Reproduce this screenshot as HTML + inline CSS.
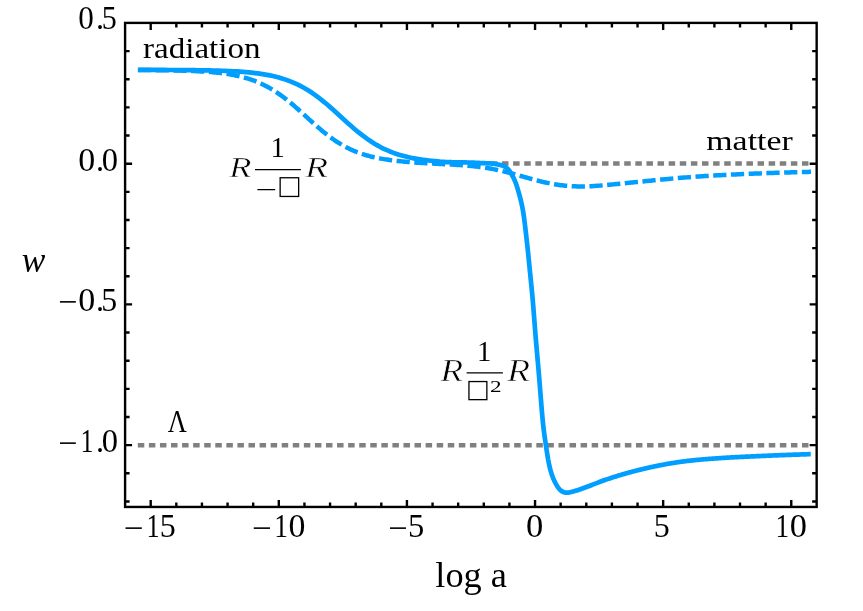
<!DOCTYPE html>
<html><head><meta charset="utf-8"><title>w vs log a</title>
<style>html,body{margin:0;padding:0;background:#fff;}body{width:863px;height:611px;overflow:hidden;font-family:"Liberation Serif",serif;}svg{display:block;will-change:transform}</style>
</head><body>
<svg width="863" height="611" viewBox="0 0 863 611">
<path d="M490.9,163.4 H810.5" stroke="#808080" stroke-width="4.5" stroke-dasharray="6.5 4.61" fill="none"/>
<path d="M137.8,445.20 H810.5" stroke="#808080" stroke-width="4.5" stroke-dasharray="6.5 4.57" fill="none"/>
<path d="M137.90,70.01 L139.40,70.01 L140.90,70.02 L142.40,70.03 L143.90,70.04 L145.40,70.05 L146.89,70.06 L148.39,70.07 L149.89,70.08 L151.39,70.10 L152.89,70.11 L154.39,70.12 L155.89,70.14 L157.39,70.16 L158.89,70.17 L160.39,70.19 L161.89,70.21 L163.38,70.23 L164.88,70.25 L166.38,70.27 L167.88,70.30 L169.38,70.32 L170.88,70.35 L172.38,70.38 L173.88,70.41 L175.38,70.44 L176.88,70.47 L178.38,70.51 L179.88,70.55 L181.37,70.59 L182.87,70.63 L184.37,70.67 L185.87,70.72 L187.37,70.77 L188.87,70.83 L190.37,70.88 L191.87,70.94 L193.37,71.01 L194.87,71.07 L196.37,71.14 L197.86,71.22 L199.36,71.30 L200.86,71.38 L202.36,71.47 L203.86,71.57 L205.36,71.67 L206.86,71.77 L208.36,71.89 L209.86,72.00 L211.36,72.13 L212.86,72.26 L214.35,72.40 L215.85,72.55 L217.35,72.71 L218.85,72.87 L220.35,73.04 L221.85,73.23 L223.35,73.42 L224.85,73.63 L226.35,73.85 L227.85,74.07 L229.35,74.31 L230.84,74.57 L232.34,74.84 L233.84,75.12 L235.34,75.42 L236.84,75.73 L238.34,76.06 L239.84,76.41 L241.34,76.77 L242.84,77.15 L244.34,77.56 L245.84,77.98 L247.33,78.42 L248.83,78.89 L250.33,79.38 L251.83,79.89 L253.33,80.42 L254.83,80.98 L256.33,81.57 L257.83,82.18 L259.33,82.82 L260.83,83.49 L262.33,84.18 L263.83,84.91 L265.32,85.66 L266.82,86.44 L268.32,87.26 L269.82,88.10 L271.32,88.98 L272.82,89.88 L274.32,90.82 L275.82,91.78 L277.32,92.78 L278.82,93.81 L280.32,94.87 L281.81,95.95 L283.31,97.07 L284.81,98.21 L286.31,99.38 L287.81,100.57 L289.31,101.79 L290.81,103.03 L292.31,104.30 L293.81,105.58 L295.31,106.88 L296.81,108.20 L298.30,109.53 L299.80,110.87 L301.30,112.22 L302.80,113.58 L304.30,114.95 L305.80,116.32 L307.30,117.68 L308.80,119.05 L310.30,120.41 L311.80,121.77 L313.30,123.12 L314.79,124.45 L316.29,125.78 L317.79,127.09 L319.29,128.38 L320.79,129.65 L322.29,130.90 L323.79,132.13 L325.29,133.34 L326.79,134.52 L328.29,135.68 L329.79,136.80 L331.29,137.90 L332.78,138.97 L334.28,140.02 L335.78,141.03 L337.28,142.01 L338.78,142.96 L340.28,143.88 L341.78,144.77 L343.28,145.63 L344.78,146.45 L346.28,147.25 L347.78,148.02 L349.27,148.75 L350.77,149.46 L352.27,150.14 L353.77,150.80 L355.27,151.42 L356.77,152.02 L358.27,152.59 L359.77,153.14 L361.27,153.66 L362.77,154.16 L364.27,154.64 L365.76,155.09 L367.26,155.52 L368.76,155.93 L370.26,156.33 L371.76,156.70 L373.26,157.06 L374.76,157.39 L376.26,157.71 L377.76,158.02 L379.26,158.31 L380.76,158.59 L382.25,158.86 L383.75,159.12 L385.25,159.36 L386.75,159.59 L388.25,159.82 L389.75,160.03 L391.25,160.22 L392.75,160.41 L394.25,160.59 L395.75,160.77 L397.25,160.93 L398.74,161.08 L400.24,161.23 L401.74,161.38 L403.24,161.53 L404.74,161.68 L406.24,161.82 L407.74,161.96 L409.24,162.09 L410.74,162.22 L412.24,162.33 L413.74,162.44 L415.24,162.55 L416.73,162.65 L418.23,162.75 L419.73,162.85 L421.23,162.94 L422.73,163.03 L424.23,163.12 L425.73,163.20 L427.23,163.28 L428.73,163.37 L430.23,163.45 L431.73,163.52 L433.22,163.60 L434.72,163.68 L436.22,163.75 L437.72,163.83 L439.22,163.91 L440.72,163.98 L442.22,164.06 L443.72,164.13 L445.22,164.21 L446.72,164.29 L448.22,164.37 L449.71,164.45 L451.21,164.53 L452.71,164.62 L454.21,164.71 L455.71,164.80 L457.21,164.89 L458.71,164.99 L460.21,165.09 L461.71,165.20 L463.21,165.31 L464.71,165.43 L466.20,165.55 L467.70,165.67 L469.20,165.81 L470.70,165.95 L472.20,166.09 L473.70,166.25 L475.20,166.41 L476.70,166.58 L478.20,166.76 L479.70,166.95 L481.20,167.14 L482.70,167.35 L484.19,167.57 L485.69,167.80 L487.19,168.04 L488.69,168.29 L490.19,168.55 L491.69,168.82 L493.19,169.10 L494.69,169.40 L496.19,169.71 L497.69,170.02 L499.19,170.35 L500.68,170.69 L502.18,171.04 L503.68,171.39 L505.18,171.76 L506.68,172.14 L508.18,172.52 L509.68,172.92 L511.18,173.32 L512.68,173.72 L514.18,174.14 L515.68,174.55 L517.17,174.97 L518.67,175.40 L520.17,175.82 L521.67,176.25 L523.17,176.68 L524.67,177.11 L526.17,177.53 L527.67,177.95 L529.17,178.37 L530.67,178.79 L532.17,179.20 L533.66,179.60 L535.16,180.00 L536.66,180.39 L538.16,180.77 L539.66,181.14 L541.16,181.50 L542.66,181.86 L544.16,182.20 L545.66,182.53 L547.16,182.85 L548.66,183.16 L550.16,183.46 L551.65,183.74 L553.15,184.01 L554.65,184.27 L556.15,184.51 L557.65,184.74 L559.15,184.96 L560.65,185.16 L562.15,185.34 L563.65,185.52 L565.15,185.67 L566.65,185.82 L568.14,185.94 L569.64,186.06 L571.14,186.16 L572.64,186.24 L574.14,186.31 L575.64,186.37 L577.14,186.41 L578.64,186.44 L580.14,186.46 L581.64,186.46 L583.14,186.45 L584.63,186.43 L586.13,186.39 L587.63,186.35 L589.13,186.29 L590.63,186.22 L592.13,186.15 L593.63,186.06 L595.13,185.96 L596.63,185.86 L598.13,185.75 L599.63,185.63 L601.12,185.50 L602.62,185.37 L604.12,185.24 L605.62,185.10 L607.12,184.96 L608.62,184.81 L610.12,184.67 L611.62,184.52 L613.12,184.37 L614.62,184.22 L616.12,184.07 L617.61,183.92 L619.11,183.77 L620.61,183.62 L622.11,183.47 L623.61,183.32 L625.11,183.17 L626.61,183.02 L628.11,182.88 L629.61,182.73 L631.11,182.58 L632.61,182.43 L634.11,182.28 L635.60,182.13 L637.10,181.99 L638.60,181.84 L640.10,181.69 L641.60,181.54 L643.10,181.39 L644.60,181.24 L646.10,181.09 L647.60,180.94 L649.10,180.79 L650.60,180.64 L652.09,180.49 L653.59,180.34 L655.09,180.20 L656.59,180.05 L658.09,179.90 L659.59,179.76 L661.09,179.61 L662.59,179.47 L664.09,179.33 L665.59,179.18 L667.09,179.04 L668.58,178.91 L670.08,178.77 L671.58,178.63 L673.08,178.50 L674.58,178.37 L676.08,178.24 L677.58,178.11 L679.08,177.98 L680.58,177.86 L682.08,177.73 L683.58,177.61 L685.07,177.49 L686.57,177.37 L688.07,177.25 L689.57,177.14 L691.07,177.03 L692.57,176.92 L694.07,176.81 L695.57,176.70 L697.07,176.60 L698.57,176.49 L700.07,176.39 L701.57,176.29 L703.06,176.19 L704.56,176.09 L706.06,176.00 L707.56,175.91 L709.06,175.81 L710.56,175.72 L712.06,175.63 L713.56,175.55 L715.06,175.46 L716.56,175.37 L718.06,175.29 L719.55,175.21 L721.05,175.13 L722.55,175.05 L724.05,174.97 L725.55,174.89 L727.05,174.82 L728.55,174.74 L730.05,174.67 L731.55,174.59 L733.05,174.52 L734.55,174.45 L736.04,174.38 L737.54,174.31 L739.04,174.24 L740.54,174.18 L742.04,174.11 L743.54,174.05 L745.04,173.98 L746.54,173.92 L748.04,173.86 L749.54,173.79 L751.04,173.73 L752.53,173.67 L754.03,173.61 L755.53,173.55 L757.03,173.50 L758.53,173.44 L760.03,173.38 L761.53,173.33 L763.03,173.27 L764.53,173.22 L766.03,173.16 L767.53,173.11 L769.02,173.06 L770.52,173.00 L772.02,172.95 L773.52,172.90 L775.02,172.85 L776.52,172.80 L778.02,172.75 L779.52,172.70 L781.02,172.66 L782.52,172.61 L784.02,172.56 L785.52,172.52 L787.01,172.47 L788.51,172.42 L790.01,172.38 L791.51,172.34 L793.01,172.29 L794.51,172.25 L796.01,172.21 L797.51,172.16 L799.01,172.12 L800.51,172.08 L802.01,172.04 L803.50,172.00 L805.00,171.96 L806.50,171.92 L808.00,171.89 L809.50,171.85 L811.00,171.81" stroke="#009eff" stroke-width="4.5" stroke-dasharray="13.25 4.5" fill="none" stroke-linejoin="round"/>
<path d="M137.90,69.91 L140.90,69.91 L143.90,69.92 L146.90,69.92 L149.90,69.93 L152.90,69.94 L155.90,69.94 L158.90,69.95 L161.90,69.96 L164.90,69.97 L167.90,69.99 L170.90,70.00 L173.90,70.01 L176.90,70.03 L179.90,70.05 L182.90,70.07 L185.90,70.10 L188.90,70.12 L191.90,70.15 L194.90,70.19 L197.90,70.23 L200.90,70.27 L203.90,70.32 L206.90,70.38 L209.90,70.44 L212.90,70.51 L215.90,70.58 L218.90,70.67 L221.90,70.77 L224.90,70.88 L227.90,71.00 L230.90,71.14 L233.90,71.30 L236.90,71.47 L239.90,71.67 L242.90,71.88 L245.90,72.13 L248.90,72.40 L251.90,72.70 L254.90,73.04 L257.90,73.42 L260.90,73.84 L263.90,74.31 L266.90,74.83 L269.90,75.41 L272.90,76.06 L275.90,76.77 L278.90,77.55 L281.90,78.42 L284.90,79.38 L287.90,80.42 L290.90,81.57 L293.90,82.82 L296.90,84.18 L299.90,85.66 L302.90,87.26 L305.90,88.98 L308.90,90.82 L311.90,92.79 L314.90,94.87 L317.90,97.08 L320.90,99.39 L323.90,101.81 L326.90,104.31 L329.90,106.90 L332.90,109.55 L335.90,112.24 L338.90,114.97 L341.90,117.71 L344.90,120.44 L347.90,123.14 L350.90,125.81 L353.90,128.41 L356.90,130.93 L359.90,133.37 L362.90,135.71 L365.90,137.93 L368.90,140.05 L371.90,142.04 L374.90,143.91 L377.90,145.65 L380.90,147.28 L383.90,148.78 L386.90,150.17 L389.90,151.44 L392.90,152.61 L395.90,153.68 L398.90,154.65 L401.90,155.54 L404.90,156.34 L407.90,157.07 L410.90,157.73 L413.90,158.32 L416.90,158.86 L419.90,159.34 L422.90,159.77 L425.90,160.16 L428.90,160.50 L431.90,160.81 L434.90,161.09 L437.90,161.34 L440.00,161.80 L440.73,161.83 L441.45,161.86 L442.18,161.89 L442.90,161.92 L443.63,161.94 L444.36,161.97 L445.08,162.00 L445.81,162.03 L446.53,162.05 L447.26,162.08 L447.99,162.10 L448.71,162.13 L449.44,162.15 L450.16,162.17 L450.89,162.20 L451.62,162.22 L452.34,162.24 L453.07,162.25 L453.79,162.27 L454.52,162.29 L455.25,162.30 L455.97,162.32 L456.70,162.33 L457.43,162.34 L458.15,162.35 L458.88,162.36 L459.61,162.37 L460.33,162.38 L461.06,162.39 L461.78,162.40 L462.51,162.41 L463.24,162.42 L463.96,162.43 L464.69,162.44 L465.42,162.45 L466.14,162.46 L466.87,162.48 L467.60,162.49 L468.32,162.51 L469.05,162.53 L469.77,162.55 L470.50,162.57 L471.23,162.59 L471.95,162.62 L472.68,162.65 L473.40,162.68 L474.13,162.71 L474.85,162.75 L475.58,162.78 L476.31,162.82 L477.03,162.85 L477.76,162.89 L478.48,162.92 L479.21,162.96 L479.93,162.99 L480.66,163.02 L481.39,163.05 L482.11,163.08 L482.84,163.11 L483.56,163.14 L484.29,163.17 L485.02,163.20 L485.74,163.23 L486.47,163.26 L487.19,163.29 L487.92,163.33 L488.64,163.37 L489.37,163.41 L490.09,163.46 L490.82,163.51 L491.54,163.57 L492.27,163.63 L492.99,163.70 L493.71,163.78 L494.43,163.87 L495.15,163.97 L495.87,164.08 L496.59,164.19 L497.31,164.32 L498.03,164.45 L498.74,164.60 L499.45,164.75 L500.16,164.92 L500.87,165.10 L501.57,165.31 L502.26,165.53 L502.94,165.78 L503.61,166.06 L504.27,166.36 L504.90,166.70 L505.52,167.08 L506.11,167.50 L506.68,167.94 L507.22,168.42 L507.74,168.93 L508.23,169.46 L508.71,170.01 L509.16,170.58 L509.60,171.16 L510.01,171.76 L510.42,172.37 L510.81,172.98 L511.18,173.61 L511.55,174.23 L511.91,174.87 L512.26,175.51 L512.61,176.15 L512.95,176.79 L513.29,177.44 L513.62,178.08 L513.94,178.74 L514.25,179.39 L514.56,180.05 L514.85,180.71 L515.13,181.38 L515.40,182.05 L515.66,182.73 L515.91,183.41 L516.15,184.10 L516.38,184.79 L516.61,185.48 L516.83,186.17 L517.04,186.87 L517.26,187.56 L517.47,188.26 L517.67,188.96 L517.88,189.65 L518.09,190.35 L518.29,191.05 L518.50,191.75 L518.70,192.44 L518.90,193.14 L519.10,193.84 L519.29,194.54 L519.49,195.24 L519.68,195.94 L519.87,196.64 L520.06,197.34 L520.24,198.05 L520.42,198.75 L520.60,199.45 L520.77,200.16 L520.94,200.87 L521.11,201.57 L521.27,202.28 L521.43,202.99 L521.59,203.70 L521.74,204.41 L521.90,205.12 L522.04,205.83 L522.19,206.54 L522.33,207.26 L522.47,207.97 L522.60,208.68 L522.73,209.40 L522.86,210.11 L522.98,210.83 L523.10,211.55 L523.22,212.26 L523.34,212.98 L523.45,213.70 L523.56,214.42 L523.67,215.13 L523.77,215.85 L523.88,216.57 L523.98,217.29 L524.08,218.01 L524.17,218.73 L524.27,219.45 L524.36,220.17 L524.46,220.89 L524.55,221.61 L524.64,222.33 L524.73,223.06 L524.81,223.78 L524.90,224.50 L524.99,225.22 L525.07,225.94 L525.16,226.66 L525.25,227.38 L525.33,228.11 L525.42,228.83 L525.50,229.55 L525.59,230.27 L525.67,230.99 L525.76,231.71 L525.84,232.44 L525.93,233.16 L526.01,233.88 L526.09,234.60 L526.18,235.32 L526.26,236.04 L526.34,236.77 L526.43,237.49 L526.51,238.21 L526.59,238.93 L526.67,239.65 L526.75,240.38 L526.83,241.10 L526.91,241.82 L526.99,242.54 L527.07,243.26 L527.15,243.98 L527.23,244.71 L527.31,245.43 L527.39,246.15 L527.47,246.87 L527.55,247.60 L527.62,248.32 L527.70,249.04 L527.77,249.76 L527.85,250.48 L527.93,251.21 L528.00,251.93 L528.07,252.65 L528.15,253.38 L528.22,254.10 L528.30,254.82 L528.37,255.54 L528.44,256.27 L528.51,256.99 L528.59,257.71 L528.66,258.43 L528.73,259.16 L528.80,259.88 L528.87,260.60 L528.94,261.33 L529.02,262.05 L529.09,262.77 L529.16,263.50 L529.23,264.22 L529.30,264.94 L529.37,265.66 L529.44,266.39 L529.51,267.11 L529.59,267.83 L529.66,268.56 L529.73,269.28 L529.80,270.00 L529.87,270.72 L529.94,271.45 L530.02,272.17 L530.09,272.89 L530.16,273.62 L530.24,274.34 L530.31,275.06 L530.38,275.78 L530.45,276.51 L530.53,277.23 L530.60,277.95 L530.67,278.68 L530.75,279.40 L530.82,280.12 L530.89,280.84 L530.97,281.57 L531.04,282.29 L531.11,283.01 L531.18,283.74 L531.25,284.46 L531.33,285.18 L531.40,285.90 L531.47,286.63 L531.54,287.35 L531.61,288.07 L531.68,288.80 L531.75,289.52 L531.82,290.24 L531.89,290.96 L531.96,291.69 L532.03,292.41 L532.10,293.13 L532.17,293.86 L532.23,294.58 L532.30,295.30 L532.37,296.03 L532.43,296.75 L532.50,297.47 L532.56,298.20 L532.63,298.92 L532.69,299.65 L532.75,300.37 L532.82,301.09 L532.88,301.82 L532.94,302.54 L533.00,303.26 L533.06,303.99 L533.12,304.71 L533.18,305.44 L533.24,306.16 L533.30,306.88 L533.36,307.61 L533.42,308.33 L533.47,309.06 L533.53,309.78 L533.59,310.50 L533.65,311.23 L533.70,311.95 L533.76,312.68 L533.82,313.40 L533.87,314.13 L533.93,314.85 L533.99,315.57 L534.04,316.30 L534.10,317.02 L534.15,317.75 L534.21,318.47 L534.27,319.20 L534.32,319.92 L534.38,320.64 L534.43,321.37 L534.49,322.09 L534.54,322.82 L534.60,323.54 L534.65,324.27 L534.71,324.99 L534.77,325.71 L534.82,326.44 L534.88,327.16 L534.93,327.89 L534.99,328.61 L535.05,329.34 L535.10,330.06 L535.16,330.78 L535.22,331.51 L535.28,332.23 L535.34,332.96 L535.39,333.68 L535.45,334.41 L535.51,335.13 L535.57,335.85 L535.63,336.58 L535.69,337.30 L535.75,338.03 L535.81,338.75 L535.87,339.47 L535.93,340.20 L535.99,340.92 L536.06,341.64 L536.12,342.37 L536.18,343.09 L536.24,343.82 L536.30,344.54 L536.37,345.26 L536.43,345.99 L536.49,346.71 L536.56,347.43 L536.62,348.16 L536.68,348.88 L536.75,349.61 L536.81,350.33 L536.87,351.05 L536.94,351.78 L537.00,352.50 L537.07,353.22 L537.13,353.95 L537.19,354.67 L537.26,355.40 L537.32,356.12 L537.39,356.84 L537.45,357.57 L537.51,358.29 L537.58,359.01 L537.64,359.74 L537.71,360.46 L537.77,361.18 L537.83,361.91 L537.90,362.63 L537.96,363.35 L538.02,364.08 L538.09,364.80 L538.15,365.53 L538.21,366.25 L538.28,366.97 L538.34,367.70 L538.40,368.42 L538.46,369.14 L538.53,369.87 L538.59,370.59 L538.65,371.32 L538.71,372.04 L538.77,372.76 L538.83,373.49 L538.89,374.21 L538.95,374.94 L539.01,375.66 L539.07,376.38 L539.13,377.11 L539.19,377.83 L539.25,378.55 L539.31,379.28 L539.37,380.00 L539.43,380.73 L539.49,381.45 L539.55,382.17 L539.60,382.90 L539.66,383.62 L539.72,384.35 L539.78,385.07 L539.84,385.80 L539.89,386.52 L539.95,387.24 L540.01,387.97 L540.07,388.69 L540.12,389.42 L540.18,390.14 L540.24,390.86 L540.30,391.59 L540.35,392.31 L540.41,393.04 L540.47,393.76 L540.53,394.48 L540.58,395.21 L540.64,395.93 L540.70,396.66 L540.76,397.38 L540.81,398.11 L540.87,398.83 L540.93,399.55 L540.99,400.28 L541.05,401.00 L541.11,401.73 L541.16,402.45 L541.22,403.17 L541.28,403.90 L541.34,404.62 L541.40,405.35 L541.46,406.07 L541.52,406.79 L541.58,407.52 L541.64,408.24 L541.70,408.97 L541.76,409.69 L541.82,410.41 L541.88,411.14 L541.95,411.86 L542.01,412.59 L542.07,413.31 L542.13,414.03 L542.19,414.76 L542.26,415.48 L542.32,416.21 L542.39,416.93 L542.45,417.65 L542.52,418.38 L542.59,419.10 L542.65,419.82 L542.72,420.55 L542.79,421.27 L542.87,421.99 L542.94,422.72 L543.01,423.44 L543.09,424.16 L543.16,424.88 L543.24,425.61 L543.32,426.33 L543.40,427.05 L543.48,427.77 L543.57,428.49 L543.66,429.21 L543.74,429.93 L543.83,430.66 L543.93,431.38 L544.02,432.10 L544.11,432.82 L544.21,433.54 L544.31,434.26 L544.41,434.98 L544.51,435.70 L544.61,436.41 L544.71,437.13 L544.82,437.85 L544.92,438.57 L545.03,439.29 L545.13,440.01 L545.24,440.73 L545.34,441.45 L545.45,442.17 L545.56,442.88 L545.66,443.60 L545.77,444.32 L545.87,445.04 L545.98,445.76 L546.09,446.48 L546.19,447.20 L546.30,447.91 L546.41,448.63 L546.52,449.35 L546.63,450.07 L546.74,450.79 L546.85,451.51 L546.96,452.22 L547.07,452.94 L547.18,453.66 L547.30,454.38 L547.41,455.09 L547.53,455.81 L547.65,456.53 L547.77,457.24 L547.89,457.96 L548.01,458.68 L548.14,459.39 L548.26,460.11 L548.40,460.82 L548.53,461.54 L548.67,462.25 L548.81,462.96 L548.95,463.68 L549.10,464.39 L549.25,465.10 L549.41,465.81 L549.57,466.52 L549.73,467.22 L549.90,467.93 L550.08,468.64 L550.26,469.34 L550.45,470.05 L550.64,470.75 L550.84,471.45 L551.05,472.14 L551.26,472.84 L551.48,473.53 L551.71,474.22 L551.94,474.91 L552.18,475.60 L552.43,476.28 L552.69,476.96 L552.95,477.63 L553.23,478.30 L553.51,478.97 L553.80,479.63 L554.10,480.30 L554.41,480.95 L554.73,481.61 L555.05,482.26 L555.39,482.91 L555.73,483.55 L556.09,484.19 L556.45,484.83 L556.82,485.47 L557.21,486.10 L557.60,486.72 L558.01,487.34 L558.44,487.93 L558.89,488.51 L559.36,489.07 L559.86,489.60 L560.38,490.10 L560.93,490.57 L561.52,491.01 L562.13,491.40 L562.77,491.75 L563.42,492.05 L564.10,492.29 L564.79,492.48 L565.49,492.61 L566.20,492.67 L566.91,492.68 L567.63,492.64 L568.36,492.56 L569.08,492.44 L569.81,492.30 L570.53,492.13 L571.25,491.96 L571.97,491.78 L572.68,491.59 L573.39,491.40 L574.10,491.21 L574.80,491.01 L575.50,490.81 L576.20,490.61 L576.89,490.40 L577.58,490.18 L578.27,489.96 L578.96,489.74 L579.65,489.51 L580.34,489.28 L581.02,489.05 L581.71,488.81 L582.39,488.57 L583.07,488.32 L583.76,488.07 L584.44,487.82 L585.12,487.57 L585.80,487.31 L586.48,487.05 L587.15,486.79 L587.83,486.53 L588.51,486.26 L589.19,486.00 L589.86,485.74 L590.54,485.47 L591.22,485.20 L591.90,484.94 L592.57,484.67 L593.25,484.41 L593.93,484.14 L594.61,483.88 L595.28,483.62 L595.96,483.36 L596.64,483.10 L597.32,482.84 L598.00,482.58 L598.68,482.32 L599.36,482.06 L600.04,481.81 L600.72,481.56 L601.40,481.30 L602.08,481.05 L602.76,480.80 L603.44,480.56 L604.13,480.31 L604.81,480.07 L605.50,479.83 L606.18,479.59 L606.87,479.35 L607.56,479.11 L608.24,478.88 L608.93,478.65 L609.62,478.41 L610.31,478.19 L611.00,477.96 L611.69,477.73 L612.38,477.51 L613.07,477.29 L613.76,477.06 L614.46,476.84 L615.15,476.63 L615.84,476.41 L616.54,476.20 L617.23,475.98 L617.93,475.77 L618.62,475.56 L619.32,475.35 L620.01,475.14 L620.71,474.93 L621.41,474.73 L622.10,474.52 L622.80,474.32 L623.50,474.12 L624.20,473.92 L624.90,473.72 L625.60,473.52 L626.29,473.32 L626.99,473.13 L627.69,472.93 L628.39,472.74 L629.10,472.55 L629.80,472.36 L630.50,472.17 L631.20,471.98 L631.90,471.79 L632.60,471.60 L633.30,471.42 L634.01,471.23 L634.71,471.05 L635.41,470.87 L636.12,470.69 L636.82,470.51 L637.53,470.33 L638.23,470.15 L638.93,469.97 L639.64,469.80 L640.34,469.62 L641.05,469.45 L641.76,469.28 L642.46,469.11 L643.17,468.94 L643.88,468.77 L644.58,468.61 L645.29,468.44 L646.00,468.28 L646.71,468.11 L647.41,467.95 L648.12,467.79 L648.83,467.63 L649.54,467.47 L650.25,467.32 L650.96,467.16 L651.67,467.01 L652.38,466.85 L653.09,466.70 L653.80,466.55 L654.51,466.40 L655.22,466.25 L655.93,466.11 L656.65,465.96 L657.36,465.82 L658.07,465.67 L658.78,465.53 L659.50,465.39 L660.21,465.25 L660.92,465.12 L661.64,464.98 L662.35,464.84 L663.06,464.71 L663.78,464.58 L664.49,464.44 L665.21,464.31 L665.92,464.18 L666.64,464.05 L667.35,463.93 L668.07,463.80 L668.78,463.67 L669.50,463.55 L670.21,463.43 L670.93,463.31 L671.65,463.19 L672.36,463.07 L673.08,462.95 L673.80,462.83 L674.52,462.72 L675.23,462.61 L675.95,462.49 L676.67,462.38 L677.39,462.28 L678.11,462.17 L678.82,462.07 L679.54,461.96 L680.26,461.86 L680.98,461.77 L681.70,461.67 L682.42,461.57 L683.14,461.48 L683.86,461.39 L684.59,461.30 L685.31,461.21 L686.03,461.13 L686.75,461.04 L687.47,460.96 L688.19,460.87 L688.91,460.79 L689.64,460.71 L690.36,460.63 L691.08,460.55 L691.80,460.47 L692.53,460.40 L693.25,460.32 L693.97,460.24 L694.69,460.17 L695.42,460.09 L696.14,460.02 L696.86,459.95 L697.58,459.88 L698.31,459.81 L699.03,459.74 L699.75,459.67 L700.48,459.60 L701.20,459.53 L701.92,459.47 L702.65,459.40 L703.37,459.34 L704.09,459.28 L704.82,459.22 L705.54,459.16 L706.27,459.10 L706.99,459.04 L707.72,458.99 L708.44,458.93 L709.16,458.88 L709.89,458.82 L710.61,458.77 L711.34,458.72 L712.06,458.67 L712.79,458.62 L713.51,458.57 L714.24,458.52 L714.96,458.47 L715.69,458.42 L716.41,458.37 L717.14,458.32 L717.86,458.28 L718.59,458.23 L719.31,458.18 L720.04,458.13 L720.76,458.08 L721.49,458.03 L722.21,457.99 L722.93,457.94 L723.66,457.89 L724.38,457.85 L725.11,457.80 L725.83,457.75 L726.56,457.71 L727.28,457.66 L728.01,457.62 L728.74,457.58 L729.46,457.53 L730.19,457.49 L730.91,457.45 L731.64,457.41 L732.36,457.37 L733.09,457.33 L733.81,457.29 L734.54,457.25 L735.26,457.21 L735.99,457.17 L736.71,457.13 L737.44,457.10 L738.16,457.06 L738.89,457.02 L739.62,456.99 L740.34,456.95 L741.07,456.92 L741.79,456.88 L742.52,456.85 L743.24,456.81 L743.97,456.78 L744.70,456.74 L745.42,456.71 L746.15,456.68 L746.87,456.64 L747.60,456.61 L748.32,456.58 L749.05,456.54 L749.77,456.51 L750.50,456.48 L751.23,456.44 L751.95,456.41 L752.68,456.38 L753.40,456.34 L754.13,456.31 L754.85,456.28 L755.58,456.24 L756.31,456.21 L757.03,456.18 L757.76,456.15 L758.48,456.11 L759.21,456.08 L759.93,456.05 L760.66,456.01 L761.39,455.98 L762.11,455.95 L762.84,455.92 L763.56,455.89 L764.29,455.85 L765.01,455.82 L765.74,455.79 L766.47,455.76 L767.19,455.73 L767.92,455.70 L768.64,455.66 L769.37,455.63 L770.10,455.60 L770.82,455.57 L771.55,455.54 L772.27,455.51 L773.00,455.48 L773.72,455.45 L774.45,455.42 L775.18,455.39 L775.90,455.36 L776.63,455.34 L777.35,455.31 L778.08,455.28 L778.81,455.25 L779.53,455.22 L780.26,455.19 L780.98,455.17 L781.71,455.14 L782.43,455.11 L783.16,455.09 L783.89,455.06 L784.61,455.03 L785.34,455.01 L786.06,454.98 L786.79,454.95 L787.52,454.93 L788.24,454.90 L788.97,454.88 L789.69,454.85 L790.42,454.82 L791.15,454.80 L791.87,454.77 L792.60,454.75 L793.32,454.72 L794.05,454.70 L794.78,454.67 L795.50,454.65 L796.23,454.63 L796.95,454.60 L797.68,454.58 L798.41,454.55 L799.13,454.53 L799.86,454.50 L800.59,454.48 L801.31,454.46 L802.04,454.43 L802.76,454.41 L803.49,454.39 L804.22,454.36 L804.94,454.34 L805.67,454.31 L806.39,454.29 L807.12,454.27 L807.85,454.24 L808.57,454.22 L809.30,454.20 L810.02,454.17 L810.75,454.15" stroke="#009eff" stroke-width="4.7" fill="none" stroke-linejoin="round"/>
<rect x="125.09" y="22.90" width="691.57" height="484.05" fill="none" stroke="#000" stroke-width="2.4"/>
<path d="M150.70,506.95v-7.0M150.70,22.90v7.0M176.32,506.95v-4.5M176.32,22.90v4.5M201.94,506.95v-4.5M201.94,22.90v4.5M227.57,506.95v-4.5M227.57,22.90v4.5M253.19,506.95v-4.5M253.19,22.90v4.5M278.81,506.95v-7.0M278.81,22.90v7.0M304.44,506.95v-4.5M304.44,22.90v4.5M330.06,506.95v-4.5M330.06,22.90v4.5M355.68,506.95v-4.5M355.68,22.90v4.5M381.30,506.95v-4.5M381.30,22.90v4.5M406.93,506.95v-7.0M406.93,22.90v7.0M432.55,506.95v-4.5M432.55,22.90v4.5M458.17,506.95v-4.5M458.17,22.90v4.5M483.79,506.95v-4.5M483.79,22.90v4.5M509.41,506.95v-4.5M509.41,22.90v4.5M535.04,506.95v-7.0M535.04,22.90v7.0M560.66,506.95v-4.5M560.66,22.90v4.5M586.28,506.95v-4.5M586.28,22.90v4.5M611.91,506.95v-4.5M611.91,22.90v4.5M637.53,506.95v-4.5M637.53,22.90v4.5M663.15,506.95v-7.0M663.15,22.90v7.0M688.77,506.95v-4.5M688.77,22.90v4.5M714.39,506.95v-4.5M714.39,22.90v4.5M740.02,506.95v-4.5M740.02,22.90v4.5M765.64,506.95v-4.5M765.64,22.90v4.5M791.26,506.95v-7.0M791.26,22.90v7.0M125.09,501.44h4.5M816.66,501.44h-4.5M125.09,473.30h4.5M816.66,473.30h-4.5M125.09,445.15h7.0M816.66,445.15h-7.0M125.09,417.00h4.5M816.66,417.00h-4.5M125.09,388.86h4.5M816.66,388.86h-4.5M125.09,360.71h4.5M816.66,360.71h-4.5M125.09,332.57h4.5M816.66,332.57h-4.5M125.09,304.42h7.0M816.66,304.42h-7.0M125.09,276.28h4.5M816.66,276.28h-4.5M125.09,248.13h4.5M816.66,248.13h-4.5M125.09,219.99h4.5M816.66,219.99h-4.5M125.09,191.84h4.5M816.66,191.84h-4.5M125.09,163.70h7.0M816.66,163.70h-7.0M125.09,135.55h4.5M816.66,135.55h-4.5M125.09,107.41h4.5M816.66,107.41h-4.5M125.09,79.27h4.5M816.66,79.27h-4.5M125.09,51.12h4.5M816.66,51.12h-4.5" stroke="#000" stroke-width="2.4" fill="none"/>
<g font-family="Liberation Serif" fill="#000">
<text transform="translate(0,537.43) scale(1,1.0258)" font-size="32"><tspan x="123.86" dy="1.82" textLength="19.75" lengthAdjust="spacingAndGlyphs">−</tspan><tspan x="146.44" dy="-1.82" textLength="13.14" lengthAdjust="spacingAndGlyphs">1</tspan><tspan x="159.64" textLength="16.01" lengthAdjust="spacingAndGlyphs">5</tspan></text>
<text transform="translate(0,537.43) scale(1,1.0258)" font-size="32"><tspan x="252.01" dy="1.82" textLength="19.69" lengthAdjust="spacingAndGlyphs">−</tspan><tspan x="274.19" dy="-1.82" textLength="13.71" lengthAdjust="spacingAndGlyphs">1</tspan><tspan x="288.46" textLength="16.93" lengthAdjust="spacingAndGlyphs">0</tspan></text>
<text transform="translate(0,537.43) scale(1,1.0258)" font-size="32"><tspan x="388.29" dy="1.82" textLength="19.39" lengthAdjust="spacingAndGlyphs">−</tspan><tspan x="408.11" dy="-1.82" textLength="16.26" lengthAdjust="spacingAndGlyphs">5</tspan></text>
<text transform="translate(0,537.43) scale(1,1.0258)" font-size="32"><tspan x="525.93" textLength="17.28" lengthAdjust="spacingAndGlyphs">0</tspan></text>
<text transform="translate(0,537.43) scale(1,1.0258)" font-size="32"><tspan x="653.74" textLength="16.01" lengthAdjust="spacingAndGlyphs">5</tspan></text>
<text transform="translate(0,537.43) scale(1,1.0258)" font-size="32"><tspan x="775.50" textLength="13.63" lengthAdjust="spacingAndGlyphs">1</tspan><tspan x="789.69" textLength="17.22" lengthAdjust="spacingAndGlyphs">0</tspan></text>
<text transform="translate(0,29.38) scale(1,1.0234)" font-size="32"><tspan x="78.21" textLength="15.57" lengthAdjust="spacingAndGlyphs">0</tspan><tspan x="95.98" textLength="8.04" lengthAdjust="spacingAndGlyphs">.</tspan><tspan x="101.85" textLength="15.02" lengthAdjust="spacingAndGlyphs">5</tspan></text>
<text transform="translate(0,170.68) scale(1,1.0304)" font-size="32"><tspan x="78.31" textLength="16.99" lengthAdjust="spacingAndGlyphs">0</tspan><tspan x="95.98" textLength="8.04" lengthAdjust="spacingAndGlyphs">.</tspan><tspan x="101.86" textLength="16.28" lengthAdjust="spacingAndGlyphs">0</tspan></text>
<text transform="translate(0,310.68) scale(1,1.0373)" font-size="32"><tspan x="58.30" dy="2.50" textLength="19.27" lengthAdjust="spacingAndGlyphs">−</tspan><tspan x="78.31" dy="-2.50" textLength="16.99" lengthAdjust="spacingAndGlyphs">0</tspan><tspan x="95.98" textLength="8.04" lengthAdjust="spacingAndGlyphs">.</tspan><tspan x="101.25" textLength="15.89" lengthAdjust="spacingAndGlyphs">5</tspan></text>
<text transform="translate(0,451.88) scale(1,1.0281)" font-size="32"><tspan x="58.30" dy="2.09" textLength="19.27" lengthAdjust="spacingAndGlyphs">−</tspan><tspan x="80.47" dy="-2.09" textLength="13.00" lengthAdjust="spacingAndGlyphs">1</tspan><tspan x="95.98" textLength="8.04" lengthAdjust="spacingAndGlyphs">.</tspan><tspan x="101.86" textLength="16.28" lengthAdjust="spacingAndGlyphs">0</tspan></text>
<text transform="translate(435.27,586.69) scale(1.0105,0.9924)" font-size="36">log a</text>
<text transform="translate(21.65,272.15) scale(0.9831,1.0015)" font-size="36" font-style="italic">w</text>
<text transform="translate(143.04,58.02) scale(1.1406,1.0047)" font-size="29">radiation</text>
<text transform="translate(706.29,149.93) scale(1.1679,0.9464)" font-size="29">matter</text>
<text transform="translate(167.74,432.00) scale(0.9097,1.1021)" font-size="29">Λ</text>
<text transform="translate(228.90,177.00) scale(1.2709,1.0375)" font-size="29" font-style="italic" stroke="#fff" stroke-width="0.6">R</text>
<text transform="translate(304.90,177.00) scale(1.3054,1.0375)" font-size="29" font-style="italic" stroke="#fff" stroke-width="0.6">R</text>
<text transform="translate(270.38,156.80) scale(0.9893,1.0081)" font-size="29">1</text>
<path d="M255,169.6H300.9M257.4,189.7H275.2" stroke="#000" stroke-width="1.3" fill="none"/>
<rect x="280.15" y="177.75" width="18.5" height="18.7" fill="none" stroke="#000" stroke-width="1.3"/>
<text transform="translate(440.20,380.50) scale(1.2939,1.0691)" font-size="29" font-style="italic" stroke="#fff" stroke-width="0.6">R</text>
<text transform="translate(507.00,380.50) scale(1.3054,1.0691)" font-size="29" font-style="italic" stroke="#fff" stroke-width="0.6">R</text>
<text transform="translate(477.08,360.60) scale(0.9893,1.0133)" font-size="29">1</text>
<path d="M466.6,372.9H502.9" stroke="#000" stroke-width="1.3" fill="none"/>
<rect x="468.95" y="381.55" width="17.9" height="18.1" fill="none" stroke="#000" stroke-width="1.3"/>
<text transform="translate(489.98,391.80) scale(1.4499,1.0289)" font-size="16">2</text>
</g>
</svg>
</body></html>
